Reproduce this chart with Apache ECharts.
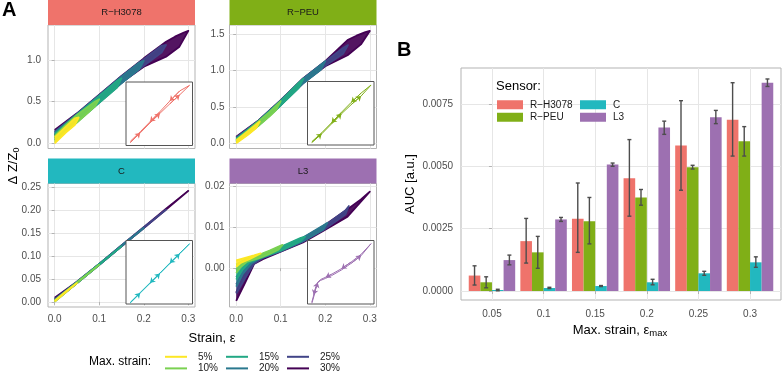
<!DOCTYPE html>
<html>
<head>
<meta charset="utf-8">
<title>Strain hysteresis and AUC</title>
<script src="https://cdn.jsdelivr.net/npm/echarts@6/dist/echarts.min.js"></script>
<style>
  html, body { margin: 0; padding: 0; background: #fff; }
  #chart { width: 782px; height: 372px; }
</style>
</head>
<body>
<div id="chart"></div>
<script>
// max strain levels (viridis)
const strainLevels = ['5%', '10%', '15%', '20%', '25%', '30%']
const strainColors = ['#FDE725', '#7AD151', '#22A884', '#2A788E', '#414487', '#440154']

const sensors = ['R−H3078', 'R−PEU', 'C', 'L3']
const sensorColors = ['#EF736B', '#80AF17', '#22B8BF', '#9D70B1']

// panel A: one loop per max strain, loading then unloading, [strain, dZ/Z0]
const rhLoops = [
  [[0, 0.0], [0.025, 0.13], [0.045, 0.22], [0.054, 0.31], [0.045, 0.3], [0.025, 0.2], [0, 0.07]],
  [[0, 0.02], [0.025, 0.14], [0.05, 0.25], [0.075, 0.37], [0.09, 0.44], [0.1, 0.53], [0.09, 0.5], [0.075, 0.44], [0.05, 0.34], [0.025, 0.22], [0, 0.09]],
  [[0, 0.04], [0.05, 0.255], [0.1, 0.485], [0.14, 0.67], [0.15, 0.78], [0.14, 0.75], [0.1, 0.57], [0.05, 0.345], [0, 0.11]],
  [[0, 0.06], [0.05, 0.26], [0.1, 0.49], [0.15, 0.72], [0.19, 0.89], [0.2, 0.99], [0.19, 0.97], [0.15, 0.8], [0.1, 0.575], [0.05, 0.35], [0, 0.13]],
  [[0, 0.08], [0.05, 0.265], [0.1, 0.495], [0.15, 0.725], [0.2, 0.93], [0.24, 1.09], [0.25, 1.18], [0.24, 1.17], [0.2, 1.01], [0.15, 0.805], [0.1, 0.58], [0.05, 0.355], [0, 0.14]],
  [[0, 0.1], [0.05, 0.27], [0.1, 0.5], [0.15, 0.73], [0.2, 0.92], [0.25, 1.04], [0.28, 1.16], [0.3, 1.35], [0.29, 1.33], [0.27, 1.28], [0.25, 1.22], [0.2, 1.02], [0.15, 0.81], [0.1, 0.585], [0.05, 0.36], [0, 0.16]]
]
const peuLoops = [
  [[0, 0.0], [0.025, 0.11], [0.045, 0.21], [0.053, 0.3], [0.045, 0.26], [0.025, 0.16], [0, 0.04]],
  [[0, 0.01], [0.025, 0.12], [0.05, 0.24], [0.075, 0.37], [0.09, 0.46], [0.1, 0.58], [0.09, 0.52], [0.075, 0.43], [0.05, 0.3], [0.025, 0.17], [0, 0.05]],
  [[0, 0.02], [0.05, 0.243], [0.1, 0.52], [0.14, 0.76], [0.151, 0.89], [0.14, 0.83], [0.1, 0.582], [0.05, 0.303], [0, 0.06]],
  [[0, 0.03], [0.05, 0.246], [0.1, 0.524], [0.15, 0.82], [0.19, 1.01], [0.2, 1.13], [0.19, 1.08], [0.15, 0.885], [0.1, 0.585], [0.05, 0.306], [0, 0.07]],
  [[0, 0.035], [0.05, 0.25], [0.1, 0.527], [0.15, 0.825], [0.2, 1.065], [0.24, 1.23], [0.251, 1.35], [0.24, 1.31], [0.2, 1.125], [0.15, 0.888], [0.1, 0.588], [0.05, 0.31], [0, 0.08]],
  [[0, 0.04], [0.05, 0.253], [0.1, 0.53], [0.15, 0.83], [0.2, 1.06], [0.25, 1.21], [0.28, 1.36], [0.3, 1.545], [0.29, 1.53], [0.27, 1.48], [0.25, 1.42], [0.2, 1.13], [0.15, 0.892], [0.1, 0.592], [0.05, 0.315], [0, 0.09]]
]
const cLoops = [
  [[0, 0.001], [0.025, 0.021], [0.05, 0.041], [0.048, 0.042], [0.025, 0.023], [0, 0.003]],
  [[0, 0.001], [0.05, 0.041], [0.1, 0.081], [0.098, 0.082], [0.05, 0.043], [0, 0.003]],
  [[0, 0.001], [0.05, 0.041], [0.1, 0.081], [0.15, 0.121], [0.148, 0.122], [0.1, 0.083], [0.05, 0.043], [0, 0.004]],
  [[0, 0.002], [0.05, 0.041], [0.1, 0.081], [0.15, 0.121], [0.2, 0.161], [0.198, 0.162], [0.15, 0.123], [0.1, 0.083], [0.05, 0.043], [0, 0.005]],
  [[0, 0.002], [0.05, 0.041], [0.1, 0.081], [0.15, 0.121], [0.2, 0.161], [0.25, 0.201], [0.248, 0.202], [0.2, 0.163], [0.15, 0.123], [0.1, 0.083], [0.05, 0.044], [0, 0.006]],
  [[0, 0.003], [0.05, 0.041], [0.1, 0.081], [0.15, 0.121], [0.2, 0.161], [0.25, 0.201], [0.3, 0.242], [0.298, 0.243], [0.25, 0.203], [0.2, 0.163], [0.15, 0.123], [0.1, 0.083], [0.05, 0.044], [0, 0.009]]
]
const l3Loops = [
  [[0, 0.0003], [0.01, 0.0013], [0.03, 0.0022], [0.055, 0.0036], [0.04, 0.0031], [0.02, 0.0025], [0, 0.0019]],
  [[0, -0.0012], [0.01, 0.0003], [0.025, 0.0016], [0.05, 0.0024], [0.075, 0.0035], [0.095, 0.0045], [0.104, 0.0057], [0.095, 0.0053], [0.075, 0.0043], [0.05, 0.0032], [0.025, 0.0024], [0, 0.0009]],
  [[0, -0.0028], [0.015, -0.0003], [0.03, 0.0014], [0.05, 0.0023], [0.1, 0.0043], [0.145, 0.0066], [0.155, 0.0077], [0.145, 0.0074], [0.1, 0.0052], [0.05, 0.0031], [0.025, 0.002], [0, -0.0004]],
  [[0, -0.0045], [0.015, -0.0014], [0.035, 0.0012], [0.05, 0.0022], [0.1, 0.0042], [0.15, 0.0066], [0.195, 0.0094], [0.205, 0.0111], [0.195, 0.0104], [0.15, 0.0075], [0.1, 0.0051], [0.05, 0.003], [0.025, 0.0015], [0, -0.0022]],
  [[0, -0.0062], [0.02, -0.0025], [0.04, 0.0011], [0.06, 0.0025], [0.1, 0.0041], [0.15, 0.0065], [0.2, 0.0096], [0.245, 0.0131], [0.253, 0.0152], [0.245, 0.0141], [0.2, 0.0105], [0.15, 0.0074], [0.1, 0.005], [0.05, 0.0029], [0.025, 0.001], [0, -0.004]],
  [[0, -0.008], [0.02, -0.0036], [0.04, 0.001], [0.06, 0.0022], [0.1, 0.004], [0.15, 0.0063], [0.2, 0.0094], [0.25, 0.0126], [0.3, 0.0187], [0.28, 0.0168], [0.25, 0.0144], [0.2, 0.0106], [0.15, 0.0073], [0.1, 0.0049], [0.05, 0.0027], [0.025, 0.0004], [0, -0.006]]
]

// single cycle shown in the insets, arrows sit on the end of segment i -> i+1
const rhInset = [[0, 0], [0.05, 0.17], [0.1, 0.35], [0.15, 0.52], [0.2, 0.69], [0.25, 0.85], [0.3, 1.02],
  [0.25, 0.92], [0.2, 0.74], [0.15, 0.55], [0.1, 0.37], [0.05, 0.19], [0, 0.02]]
const peuInset = [[0, 0], [0.05, 0.23], [0.1, 0.5], [0.15, 0.77], [0.2, 1.02], [0.25, 1.25], [0.3, 1.545],
  [0.25, 1.33], [0.2, 1.08], [0.15, 0.81], [0.1, 0.53], [0.05, 0.26], [0, 0.02]]
const cInset = [[0, 0], [0.05, 0.04], [0.1, 0.08], [0.15, 0.12], [0.2, 0.161], [0.25, 0.201], [0.3, 0.242],
  [0.25, 0.203], [0.2, 0.163], [0.15, 0.122], [0.1, 0.082], [0.05, 0.042], [0, 0.002]]
const l3Inset = [[0, -0.008], [0.01, -0.005], [0.02, -0.0015], [0.03, 0.0012], [0.045, 0.0022], [0.07, 0.0031],
  [0.1, 0.0043], [0.15, 0.0068], [0.2, 0.0098], [0.25, 0.0132], [0.3, 0.0185],
  [0.25, 0.0138], [0.2, 0.0104], [0.15, 0.0074], [0.1, 0.0049], [0.07, 0.0036], [0.045, 0.0026],
  [0.03, 0.0014], [0.02, -0.0008], [0.01, -0.0042], [0, -0.0075]]
const rhArrows = [0, 2, 4, 7, 9]
const peuArrows = [0, 2, 4, 7, 9]
const cArrows = [0, 2, 4, 7, 9]
const l3Arrows = [2, 8, 12, 14, 18]

// axis ticks
const strainTicks = [0, 0.1, 0.2, 0.3]
const rhTicks = [0, 0.5, 1]
const peuTicks = [0, 0.5, 1, 1.5]
const cTicks = [0, 0.05, 0.1, 0.15, 0.2, 0.25]
const l3Ticks = [0, 0.01, 0.02]

// panel B: AUC mean and error bar limits per max strain
const maxStrains = ['0.05', '0.1', '0.15', '0.2', '0.25', '0.3']
const aucRH = [0.00062, 0.0020, 0.0029, 0.00452, 0.00583, 0.00687]
const aucRHLow = [0.00024, 0.00112, 0.00155, 0.0030, 0.00404, 0.00541]
const aucRHHigh = [0.00101, 0.00291, 0.00433, 0.00607, 0.00763, 0.00835]
const aucPEU = [0.00035, 0.00155, 0.0028, 0.00375, 0.00496, 0.0060]
const aucPEULow = [0.00013, 0.00091, 0.00189, 0.00344, 0.00489, 0.00541]
const aucPEUHigh = [0.00057, 0.00219, 0.00375, 0.00407, 0.00504, 0.00659]
const aucC = [0.00004, 0.00012, 0.0002, 0.00035, 0.00071, 0.00115]
const aucCLow = [0.00001, 0.0001, 0.00018, 0.00025, 0.00063, 0.00095]
const aucCHigh = [0.00007, 0.00015, 0.00022, 0.00047, 0.00079, 0.00137]
const aucL3 = [0.00124, 0.00287, 0.00507, 0.00655, 0.00697, 0.00835]
const aucL3Low = [0.00105, 0.00279, 0.005, 0.00628, 0.00671, 0.0082]
const aucL3High = [0.00144, 0.00295, 0.00513, 0.00681, 0.00724, 0.0085]
const aucTicks = [0, 0.0025, 0.005, 0.0075]

const FONT = '"Liberation Sans", Arial, sans-serif'
const GRID_LINE = '#e6e6e6'
const BORDER = '#b3b3b3'
const TICK_TEXT = '#4d4d4d'

const facets = [
  { loops: rhLoops, inset: rhInset, arrows: rhArrows, ticks: rhTicks, digits: 1, yMin: -0.062, yMax: 1.42, insetY: [-0.055, 1.08] },
  { loops: peuLoops, inset: peuInset, arrows: peuArrows, ticks: peuTicks, digits: 1, yMin: -0.072, yMax: 1.627, insetY: [-0.07, 1.64] },
  { loops: cLoops, inset: cInset, arrows: cArrows, ticks: cTicks, digits: 2, yMin: -0.011, yMax: 0.258, insetY: [-0.005, 0.2555] },
  { loops: l3Loops, inset: l3Inset, arrows: l3Arrows, ticks: l3Ticks, digits: 2, yMin: -0.0095, yMax: 0.0207, insetY: [-0.0083, 0.0199] }
]

// facet positions in px
const facetLayout = [
  { left: 48, top: 25, insetLeft: 126, insetTop: 82, margin: 7 },
  { left: 229.5, top: 25, insetLeft: 307.5, insetTop: 81.5, margin: 5 },
  { left: 48, top: 183.5, insetLeft: 126, insetTop: 240.5, margin: 7 },
  { left: 229.5, top: 183.5, insetLeft: 307.5, insetTop: 240.5, margin: 5 }
]
const facetW = 147
const facetH = 123.5
const stripH = 25
const insetW = 66.5
const insetH = 63.5

const grid = []
const xAxis = []
const yAxis = []
const series = []
const graphic = []

// filled loop body, drawn once from the first point
function loopFill (loop, color, gi, z) {
  return {
    type: 'custom', name: 'fill', xAxisIndex: gi, yAxisIndex: gi, clip: true, silent: true, z,
    encode: { x: 0, y: 1 },
    data: loop,
    renderItem (params, api) {
      if (params.dataIndex !== 0) return null
      return {
        type: 'polygon',
        shape: { points: loop.map(p => api.coord(p)) },
        style: { fill: color, opacity: 0.92 }
      }
    }
  }
}

facets.forEach((f, i) => {
  const lay = facetLayout[i]
  const bottomRow = i >= 2

  // main facet
  grid.push({ left: lay.left, top: lay.top, width: facetW, height: facetH, show: true, borderColor: BORDER, borderWidth: 1 })
  const gi = grid.length - 1
  xAxis.push({
    gridIndex: gi, type: 'value', min: -0.015, max: 0.315,
    axisLine: { show: false },
    axisTick: { show: bottomRow, length: 3, lineStyle: { color: BORDER }, customValues: strainTicks },
    axisLabel: { show: bottomRow, customValues: strainTicks, formatter: v => v.toFixed(1), fontSize: 10, color: TICK_TEXT, margin: 7, fontFamily: FONT },
    splitLine: { show: true, lineStyle: { color: GRID_LINE, width: 1 } }
  })
  yAxis.push({
    gridIndex: gi, type: 'value', min: f.yMin, max: f.yMax,
    axisLine: { show: false },
    axisTick: { show: true, length: 3, lineStyle: { color: BORDER }, customValues: f.ticks },
    axisLabel: { customValues: f.ticks, formatter: v => v.toFixed(f.digits), fontSize: 10, color: TICK_TEXT, margin: lay.margin, fontFamily: FONT },
    splitLine: { show: true, lineStyle: { color: GRID_LINE, width: 1 } }
  })
  // widest strain at the bottom, 5% on top (line polylines carry z2, so each level gets its own z)
  for (let k = f.loops.length - 1; k >= 0; k--) {
    const z = 2 + (f.loops.length - 1 - k)
    series.push(loopFill(f.loops[k], strainColors[k], gi, z))
    series.push({
      type: 'line', name: strainLevels[k], xAxisIndex: gi, yAxisIndex: gi,
      data: f.loops[k], symbol: 'none', color: strainColors[k],
      lineStyle: { width: 1.8, color: strainColors[k], join: 'round' }, z
    })
  }

  // strip on top of the facet
  graphic.push({
    type: 'rect', shape: { x: lay.left, y: lay.top - stripH, width: facetW, height: stripH },
    style: { fill: sensorColors[i] }, silent: true
  })
  graphic.push({
    type: 'text', x: lay.left + facetW / 2, y: lay.top - stripH / 2,
    style: { text: sensors[i], fontSize: 9.5, fontFamily: FONT, fill: '#1a1a1a', align: 'center', verticalAlign: 'middle' }
  })

  // inset with one cycle
  grid.push({ left: lay.insetLeft, top: lay.insetTop, width: insetW, height: insetH, show: true, backgroundColor: '#fff', borderColor: '#555', borderWidth: 1, z: 20 })
  const ii = grid.length - 1
  xAxis.push({ gridIndex: ii, type: 'value', min: -0.022, max: 0.315, show: false })
  yAxis.push({ gridIndex: ii, type: 'value', min: f.insetY[0], max: f.insetY[1], show: false })
  series.push({
    type: 'line', name: 'inset' + i, xAxisIndex: ii, yAxisIndex: ii, data: f.inset,
    symbol: 'none', lineStyle: { width: 1, color: sensorColors[i] }, z: 22
  })
  series.push({
    type: 'lines', name: 'arrows' + i, coordinateSystem: 'cartesian2d', xAxisIndex: ii, yAxisIndex: ii,
    symbol: ['none', 'arrow'], symbolSize: 5, z: 23,
    lineStyle: { width: 1, color: sensorColors[i], opacity: 1 },
    data: f.arrows.map(a => ({ coords: [f.inset[a], f.inset[a + 1]] }))
  })
})

// panel B
grid.push({ left: 461, top: 68, width: 320, height: 232, show: true, borderColor: BORDER, borderWidth: 1 })
const bi = grid.length - 1
const barIdx = maxStrains.map((s, i) => i)
xAxis.push({
  gridIndex: bi, type: 'value', min: -0.6, max: 5.6,
  axisLine: { show: false },
  axisTick: { show: true, length: 3, lineStyle: { color: BORDER }, customValues: barIdx },
  axisLabel: { customValues: barIdx, formatter: v => maxStrains[Math.round(v)], fontSize: 10, color: TICK_TEXT, margin: 9, fontFamily: FONT },
  splitLine: { show: true, lineStyle: { color: GRID_LINE, width: 1 } }
})
yAxis.push({
  gridIndex: bi, type: 'value', min: -0.00036, max: 0.00894,
  axisLine: { show: false },
  axisTick: { show: true, length: 3, lineStyle: { color: BORDER }, customValues: aucTicks },
  axisLabel: { customValues: aucTicks, formatter: v => v.toFixed(4), fontSize: 10, color: TICK_TEXT, margin: 8, fontFamily: FONT },
  splitLine: { show: true, lineStyle: { color: GRID_LINE, width: 1 } }
})

const aucMeans = [aucRH, aucPEU, aucC, aucL3]
const aucLows = [aucRHLow, aucPEULow, aucCLow, aucL3Low]
const aucHighs = [aucRHHigh, aucPEUHigh, aucCHigh, aucL3High]
const dodge = 0.9 / sensors.length

sensors.forEach((s, k) => {
  series.push({
    type: 'bar', name: s, xAxisIndex: bi, yAxisIndex: bi,
    data: aucMeans[k].map((v, i) => [i, v]),
    barGap: '0%', barCategoryGap: '10%',
    itemStyle: { color: sensorColors[k] }, z: 2
  })
})

series.push({
  type: 'custom', name: 'errorbars', xAxisIndex: bi, yAxisIndex: bi, z: 5,
  encode: { x: 0, y: [1, 2] },
  data: sensors.flatMap((s, k) => aucLows[k].map((lo, i) => [i + (k - 1.5) * dodge, lo, aucHighs[k][i]])),
  renderItem (params, api) {
    const hi = api.coord([api.value(0), api.value(2)])
    const lo = api.coord([api.value(0), api.value(1)])
    const cap = 2
    const style = { stroke: '#4d4d4d', lineWidth: 1.4 }
    return {
      type: 'group',
      children: [
        { type: 'line', shape: { x1: hi[0], y1: hi[1], x2: lo[0], y2: lo[1] }, style },
        { type: 'line', shape: { x1: hi[0] - cap, y1: hi[1], x2: hi[0] + cap, y2: hi[1] }, style },
        { type: 'line', shape: { x1: lo[0] - cap, y1: lo[1], x2: lo[0] + cap, y2: lo[1] }, style }
      ]
    }
  }
})

// free texts
const textStyle = (text, size, extra) => Object.assign({ text, fontSize: size, fontFamily: FONT, fill: '#000' }, extra || {})
graphic.push(
  { type: 'text', x: 2, y: 0, style: textStyle('A', 20, { fontWeight: 'bold' }) },
  { type: 'text', x: 397, y: 40, style: textStyle('B', 20, { fontWeight: 'bold' }) },
  {
    type: 'text', x: 13, y: 166, rotation: Math.PI / 2,
    style: textStyle('Δ Z/Z{sub|0}', 13, { align: 'center', verticalAlign: 'middle', rich: { sub: { fontSize: 9, padding: [7, 0, 0, 0] } } })
  },
  { type: 'text', x: 212, y: 338, style: textStyle('Strain, ε', 13, { align: 'center', verticalAlign: 'middle' }) },
  { type: 'text', x: 151, y: 362, style: textStyle('Max. strain:', 12, { align: 'right', verticalAlign: 'middle' }) },
  { type: 'text', x: 410, y: 184, rotation: Math.PI / 2, style: textStyle('AUC [a.u.]', 13, { align: 'center', verticalAlign: 'middle' }) },
  {
    type: 'text', x: 620, y: 330,
    style: textStyle('Max. strain, ε{sub|max}', 13, { align: 'center', verticalAlign: 'middle', rich: { sub: { fontSize: 9.5, padding: [7, 0, 0, 0] } } })
  },
  { type: 'text', x: 496, y: 86, style: textStyle('Sensor:', 13, { verticalAlign: 'middle' }) }
)

const option = {
  animation: false,
  textStyle: { fontFamily: FONT },
  grid,
  xAxis,
  yAxis,
  legend: [
    {
      // strain legend: three columns, two rows
      data: ['5%', '15%', '25%', '10%', '20%', '30%'],
      left: 165, top: 351, width: 185, padding: 0, itemGap: 0,
      itemWidth: 22, itemHeight: 2, icon: 'rect', selectedMode: false,
      textStyle: { fontSize: 10, color: '#1a1a1a', width: 28, padding: [0, 0, 0, 6], lineHeight: 11.6, fontFamily: FONT }
    },
    {
      data: ['R−H3078', 'C', 'R−PEU', 'L3'],
      left: 497, top: 98.5, width: 170, padding: 0, itemGap: 0,
      itemWidth: 26, itemHeight: 9, icon: 'rect', selectedMode: false,
      textStyle: { fontSize: 10, color: '#1a1a1a', width: 50, padding: [0, 0, 0, 2], lineHeight: 12.5, fontFamily: FONT }
    }
  ],
  series,
  graphic
}

const chart = echarts.init(document.getElementById('chart'))
chart.setOption(option)
</script>
</body>
</html>
